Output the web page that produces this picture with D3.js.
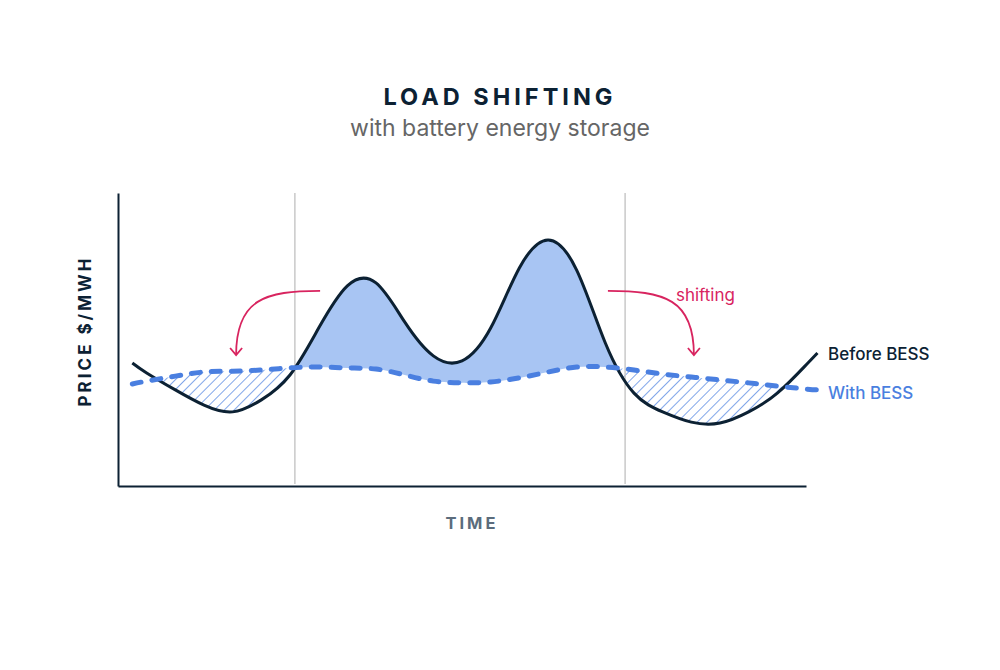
<!DOCTYPE html>
<html>
<head>
<meta charset="utf-8">
<script src="https://cdn.jsdelivr.net/npm/d3@7"></script>
<style>
  body { margin: 0; background: #fff; }
  svg { font-family: Inter, "Noto Sans", sans-serif; }
</style>
</head>
<body>
<div class="chart"></div>
<script>
// hour of day, price before and with the battery (arbitrary price units)
var hours = [0.5, 1, 2, 3, 4, 5, 6, 7, 8, 9, 10, 11, 12, 13, 14, 15, 16, 17, 18, 19, 20, 21, 22, 23, 24, 24.4];
var beforeBess = [42.0, 38.6, 32.8, 27.6, 25.3, 29.4, 37.9, 53.9, 68.3, 69.3, 56.0, 44.4, 42.7, 53.9, 74.4, 84.0, 73.7, 48.8, 31.7, 25.3, 21.8, 21.5, 25.3, 31.7, 41.3, 45.4];
var withBess = [34.8, 35.8, 37.5, 38.9, 39.2, 39.6, 40.3, 40.6, 40.3, 39.9, 37.9, 35.8, 35.2, 35.5, 36.9, 38.9, 40.6, 40.6, 39.6, 38.2, 37.2, 36.2, 35.2, 34.1, 33.1, 32.8];
// peak window (hours)
var peakWindow = [6.17, 17.69];
// shifting arrows: [from hour, from price, to hour, to price]
var arrows = [
    [7.05, 66.6, 4.12, 44.7],
    [17.09, 66.6, 20.09, 44.7]
];
var legend = ["Before BESS", "With BESS"];

var width = 1000, height = 670;
var navy = "#0c2133", blue = "#4a7fe0", fillBlue = "#a8c5f3", red = "#d8245f";

var x = d3.scaleLinear().domain([0, 24]).range([118, 806]);
var y = d3.scaleLinear().domain([0, 100]).range([486, 193]);

var data = hours.map(function(h, i) {
    return {h: h, before: beforeBess[i], with: withBess[i]};
});

var svg = d3.select(".chart").append("svg")
    .attr("width", width)
    .attr("height", height);

var defs = svg.append("defs");

defs.append("pattern")
    .attr("id", "hatch")
    .attr("patternUnits", "userSpaceOnUse")
    .attr("width", 7)
    .attr("height", 7)
    .attr("patternTransform", "rotate(45)")
    .append("line")
    .attr("x1", 0).attr("y1", 0)
    .attr("x2", 0).attr("y2", 7)
    .attr("stroke", blue)
    .attr("stroke-width", 1.4);

var curve = d3.curveNatural;

var lineBefore = d3.line().curve(curve)
    .x(function(d) { return x(d.h); })
    .y(function(d) { return y(d.before); });

var lineWith = d3.line().curve(curve)
    .x(function(d) { return x(d.h); })
    .y(function(d) { return y(d.with); });

var yTop = y.range()[1] - 20, yBottom = y.range()[0] + 20;

// region below the "before" curve / above it
defs.append("clipPath").attr("id", "belowBefore")
    .append("path")
    .attr("d", d3.area().curve(curve)
        .x(function(d) { return x(d.h); })
        .y0(yBottom)
        .y1(function(d) { return y(d.before); })(data));

defs.append("clipPath").attr("id", "aboveBefore")
    .append("path")
    .attr("d", d3.area().curve(curve)
        .x(function(d) { return x(d.h); })
        .y0(yTop)
        .y1(function(d) { return y(d.before); })(data));

defs.append("clipPath").attr("id", "peak")
    .append("rect")
    .attr("x", x(peakWindow[0]))
    .attr("y", yTop)
    .attr("width", x(peakWindow[1]) - x(peakWindow[0]))
    .attr("height", yBottom - yTop);

// peak area removed by the battery
svg.append("g")
    .attr("clip-path", "url(#peak)")
    .append("path")
    .attr("clip-path", "url(#belowBefore)")
    .attr("d", d3.area().curve(curve)
        .x(function(d) { return x(d.h); })
        .y0(yTop)
        .y1(function(d) { return y(d.with); })(data))
    .attr("fill", fillBlue);

// off-peak area filled by the battery
svg.append("path")
    .attr("clip-path", "url(#aboveBefore)")
    .attr("d", d3.area().curve(curve)
        .x(function(d) { return x(d.h); })
        .y0(yBottom)
        .y1(function(d) { return y(d.with); })(data))
    .attr("fill", "url(#hatch)");

// peak window markers
svg.selectAll("line.window")
    .data(peakWindow)
    .enter().append("line")
    .attr("class", "window")
    .attr("x1", function(d) { return x(d); })
    .attr("x2", function(d) { return x(d); })
    .attr("y1", y.range()[1])
    .attr("y2", y.range()[0] - 2)
    .attr("stroke", "#c9c9c9")
    .attr("stroke-width", 1.5);

// axes
svg.append("g")
    .attr("transform", "translate(0," + y(0) + ")")
    .call(d3.axisBottom(x).tickValues([]).tickSizeOuter(0))
    .select(".domain").attr("stroke", navy).attr("stroke-width", 2);

svg.append("g")
    .attr("transform", "translate(" + x(0) + ",0)")
    .call(d3.axisLeft(y).tickValues([]).tickSizeOuter(0))
    .select(".domain").attr("stroke", navy).attr("stroke-width", 2);

// curves
svg.append("path")
    .datum(data)
    .attr("d", lineBefore)
    .attr("fill", "none")
    .attr("stroke", navy)
    .attr("stroke-width", 3);

svg.append("path")
    .datum(data)
    .attr("d", lineWith)
    .attr("fill", "none")
    .attr("stroke", blue)
    .attr("stroke-width", 5)
    .attr("stroke-linecap", "round")
    .attr("stroke-dasharray", "9,11");

// shifting arrows
arrows.forEach(function(a) {
    var x0 = x(a[0]), y0 = y(a[1]), x1 = x(a[2]), y1 = y(a[3]);
    svg.append("path")
        .attr("d", "M" + x0 + "," + y0 +
            "C" + (x1 + (x0 - x1) * 0.35) + "," + y0 + " " + x1 + "," + (y0 + 8) + " " + x1 + "," + y1)
        .attr("fill", "none")
        .attr("stroke", red)
        .attr("stroke-width", 1.8);
    svg.append("path")
        .attr("d", "M" + (x1 - 6) + "," + (y1 - 7) + "L" + x1 + "," + y1 + "L" + (x1 + 6) + "," + (y1 - 7))
        .attr("fill", "none")
        .attr("stroke", red)
        .attr("stroke-width", 1.8);
});

svg.append("text")
    .attr("x", x(arrows[1][2]) - 18)
    .attr("y", y(arrows[1][1]) + 10)
    .attr("fill", red)
    .style("font-size", "17px")
    .text("shifting");

// legend at the line ends
svg.append("text")
    .attr("x", 828)
    .attr("y", 360)
    .attr("fill", navy)
    .style("font-size", "17px")
    .style("font-weight", 500)
    .text(legend[0]);

svg.append("text")
    .attr("x", 828)
    .attr("y", 399)
    .attr("fill", blue)
    .style("font-size", "17px")
    .style("font-weight", 500)
    .text(legend[1]);

// titles
svg.append("text")
    .attr("x", 500)
    .attr("y", 105)
    .attr("text-anchor", "middle")
    .attr("fill", navy)
    .style("font-size", "23.5px")
    .style("font-weight", 700)
    .style("letter-spacing", "4px")
    .text("LOAD SHIFTING");

svg.append("text")
    .attr("x", 500)
    .attr("y", 136)
    .attr("text-anchor", "middle")
    .attr("fill", "#666")
    .style("font-size", "23px")
    .text("with battery energy storage");

svg.append("text")
    .attr("transform", "translate(91,331) rotate(-90)")
    .attr("text-anchor", "middle")
    .attr("fill", navy)
    .style("font-size", "17px")
    .style("font-weight", 700)
    .style("letter-spacing", "3px")
    .text("PRICE $/MWH");

svg.append("text")
    .attr("x", 472)
    .attr("y", 529)
    .attr("text-anchor", "middle")
    .attr("fill", "#5b6c7c")
    .style("font-size", "16.5px")
    .style("font-weight", 700)
    .style("letter-spacing", "3px")
    .text("TIME");
</script>
</body>
</html>
